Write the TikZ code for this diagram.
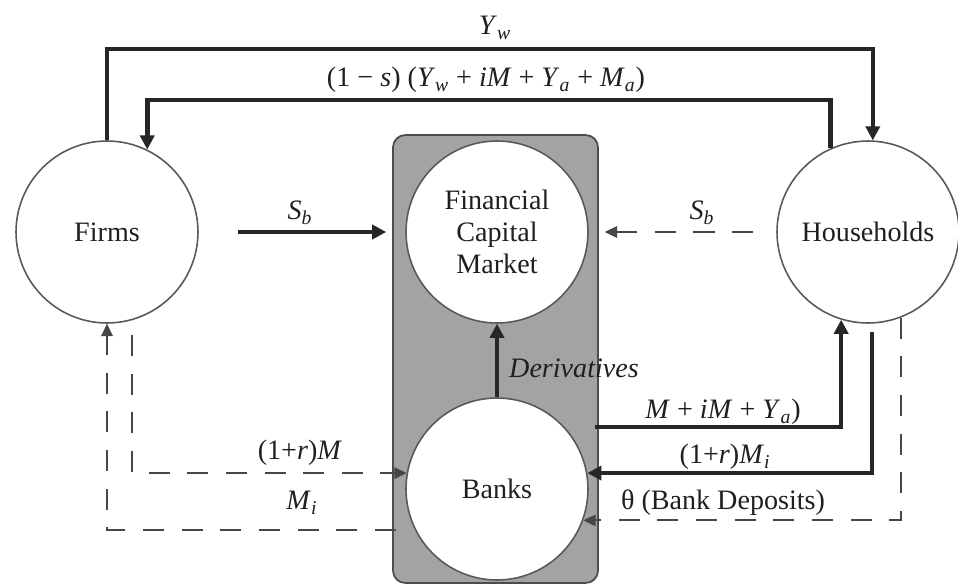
\documentclass[tikz,border=0pt]{standalone}
\usepackage{fontspec}
\setmainfont{Liberation Serif}
\usetikzlibrary{arrows.meta}
\newcommand{\mysub}[1]{\textsubscript{\textit{#1}}}
\newcommand{\vi}[1]{\textit{#1}}
\begin{document}
\begin{tikzpicture}[x=0.02cm,y=-0.02cm,
  font=\fontsize{16}{18}\selectfont,
  every node/.style={text=black!88},
  agent/.style={circle, draw=black!65, line width=0.9pt, fill=white, minimum size=3.64cm, inner sep=0pt, align=center},
  flow/.style={draw=black!85, line width=2.6pt, -{Triangle[length=8pt,width=8pt]}},
  dflow/.style={draw=black!72, line width=1.1pt, dash pattern=on 12pt off 10pt, -{Triangle[length=7pt,width=6.5pt]}},
  boxstyle/.style={draw=black!70, line width=1pt, fill=black!36, rounded corners=7pt, minimum width=4.1cm, minimum height=8.96cm, inner sep=0pt}
]
\useasboundingbox (0,0) rectangle (958,585);
\fill[white] (0,0) rectangle (958,585);

\node[boxstyle] (bankbox) at (495.5,359) {};

\node[agent] (firms) at (107,232) {Firms};
\node[agent] (hh) at (868,232) {Households};
\node[agent] (fcm) at (497,232) {Financial\\Capital\\Market};
\node[agent] (banks) at (497,489) {Banks};

\coordinate (ywrow) at (0,49);
\coordinate (row2) at (0,100);
\coordinate (c1) at (595,427);
\coordinate (c2) at (872,332);
\coordinate (c3) at (132,335);
\coordinate (c4) at (396,530);

% top flows
\draw[flow] (firms.north) -- (firms.north |- ywrow) -| (hh.87);
\draw[flow] (hh.114) -- (hh.114 |- row2) -| (firms.64);

% S_b flows
\draw[flow, shorten <=0.78cm, shorten >=0.38cm] (firms.east) -- (fcm.west);
\draw[dflow, shorten <=0.46cm, shorten >=0.32cm] (hh.west) -- (fcm.east);

% derivatives
\draw[flow] (banks.north) -- (fcm.south);

% bank-household flows
\draw[flow] (c1) -| (hh.-107);
\draw[flow] (c2) |- (banks.10);
\draw[dflow] (hh.-69) |- (banks.-20);

% bank-firm flows
\draw[dflow] (c3) |- (banks.170);
\draw[dflow] (c4) -| (firms.south);

% labels
\node (lyw) at (495,28) {\vi{Y}\mysub{w}};
\node (ls) at (486,80) {(1 − \vi{s}) (\vi{Y}\mysub{w} + \vi{iM} + \vi{Y}\mysub{a} + \vi{M}\mysub{a})};
\node (lsb1) at (300,213) {\vi{S}\mysub{b}};
\node (lsb2) at (702,213) {\vi{S}\mysub{b}};
\node[anchor=west] (lder) at (503,368) {\vi{Derivatives}};
\node (lm) at (723,412) {\vi{M} + \vi{iM} + \vi{Y}\mysub{a})};
\node (lmi) at (725,457) {(1+\vi{r})\vi{M}\mysub{i}};
\node (lth) at (723,503) {θ (Bank Deposits)};
\node (lrm) at (300,453) {(1+\vi{r})\vi{M}};
\node (lmi2) at (302,503) {\vi{M}\mysub{i}};
\end{tikzpicture}
\end{document}
